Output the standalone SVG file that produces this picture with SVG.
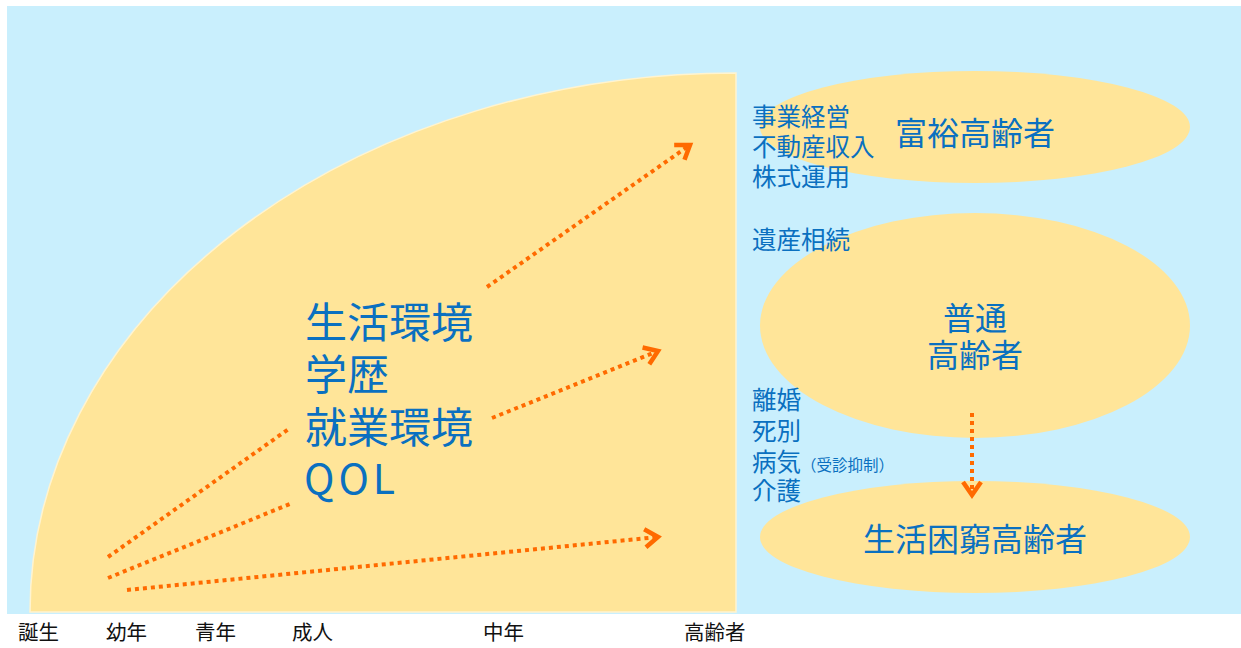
<svg xmlns="http://www.w3.org/2000/svg" width="1241" height="648" viewBox="0 0 1241 648">
<style>
.bg{fill:#C9EFFD}
.yl{fill:#FFE599}
.t{font-family:"Noto Sans CJK JP","Noto Sans",sans-serif;fill:#0A70C0}
.s{font-size:24.5px}
.b{font-size:42px}
.m{font-size:32px}
.ax{font-family:"Noto Sans CJK JP","Noto Sans",sans-serif;font-size:20.5px;fill:#111}
.d{fill:none;stroke:#FF6A00;stroke-width:4;stroke-dasharray:4 4}
</style>
<defs>
<marker id="ah" markerUnits="userSpaceOnUse" markerWidth="24" markerHeight="24" refX="16" refY="12" orient="auto">
<path d="M3,3 L16,12 L3,21" fill="none" stroke="#FF6A00" stroke-width="4.5"/>
</marker>
</defs>
<rect class="bg" x="7" y="6" width="1234" height="608"/>
<g id="life">
<path class="yl" d="M30,612 A706,539 0 0 1 736,73 L736,612 Z" stroke="#FFF4D0" stroke-width="1.5"/>
</g>
<g id="rich"><ellipse class="yl" cx="975" cy="127" rx="215" ry="56"/>
<text class="t m" x="975" y="145" text-anchor="middle">富裕高齢者</text></g>
<g id="normal"><ellipse class="yl" cx="975" cy="325.5" rx="215" ry="112.5"/>
<text class="t m" x="975" y="330" text-anchor="middle">普通</text>
<text class="t m" x="975" y="367" text-anchor="middle">高齢者</text></g>
<g id="poor"><ellipse class="yl" cx="975" cy="537" rx="215" ry="56"/>
<text class="t m" x="975" y="551" text-anchor="middle">生活困窮高齢者</text></g>
<g id="factors">
<text class="t b" x="305" y="338">生活環境</text>
<text class="t b" x="305" y="390">学歴</text>
<text class="t b" x="305" y="443">就業環境</text>
<text class="t" x="304" y="494" style="font-size:41px;letter-spacing:4px">QOL</text>
</g>
<g id="upfactors">
<text class="t s" x="752" y="126">事業経営</text>
<text class="t s" x="752" y="156">不動産収入</text>
<text class="t s" x="752" y="186">株式運用</text>
<text class="t s" x="752" y="249">遺産相続</text>
</g>
<g id="downfactors">
<text class="t s" x="752" y="409">離婚</text>
<text class="t s" x="752" y="440">死別</text>
<text class="t s" x="752" y="471">病気<tspan style="font-size:15.5px">（受診抑制）</tspan></text>
<text class="t s" x="752" y="500">介護</text>
</g>
<g id="axis">
<text class="ax" x="18" y="640">誕生</text>
<text class="ax" x="106" y="640">幼年</text>
<text class="ax" x="195" y="640">青年</text>
<text class="ax" x="292" y="640">成人</text>
<text class="ax" x="483" y="640">中年</text>
<text class="ax" x="684" y="640">高齢者</text>
</g>
<g id="connectors">
<line class="d" x1="108" y1="557" x2="290" y2="428"/>
<line class="d" x1="487" y1="287" x2="690" y2="145" marker-end="url(#ah)"/>
<line class="d" x1="108" y1="578" x2="290" y2="504"/>
<line class="d" x1="492" y1="418" x2="658" y2="351" marker-end="url(#ah)"/>
<line class="d" x1="127" y1="590" x2="658" y2="537" marker-end="url(#ah)"/>
<line class="d" x1="972" y1="413" x2="972" y2="495" marker-end="url(#ah)"/>
</g>
</svg>
